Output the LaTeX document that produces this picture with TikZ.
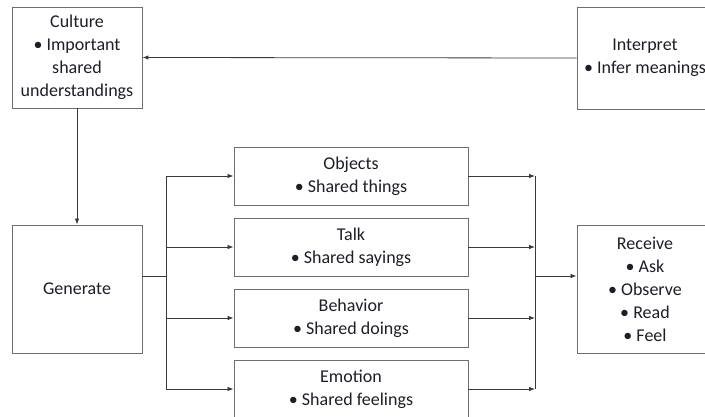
\documentclass[tikz,border=0pt]{standalone}
\usepackage{fontspec}
\setmainfont{Carlito}
\usetikzlibrary{arrows.meta}
\definecolor{boxline}{HTML}{6E6E6E}
\definecolor{wire}{HTML}{3A3A3A}
\definecolor{ink}{HTML}{1E1E28}
\begin{document}
\begin{tikzpicture}[x=1pt,y=-1pt,
  box/.style={draw=boxline, line width=0.9pt, fill=white, align=center,
    inner sep=0pt, text=ink,
    font=\fontsize{18}{23}\selectfont},
  arr/.style={draw=wire, line width=0.8pt, -{Latex[length=6pt,width=4.5pt]}},
  wireline/.style={draw=wire, line width=0.8pt}]
\useasboundingbox (0,0) rectangle (705,417);
\begin{scope}
\clip (0,0) rectangle (705,417);
% left column
\node[box, minimum width=130pt, minimum height=101pt] (cul) at (77,57.5)
  {Culture\\• Important\\shared\\understandings};
\node[box, minimum width=130pt, minimum height=128pt] (gen) at (77,289) {Generate};
% right column (boxes run past the right edge)
\node[box, minimum width=136pt, minimum height=102pt] (int) at (645,58)
  {Interpret\\• Infer meanings};
\node[box, minimum width=136pt, minimum height=128pt] (rec) at (645,289)
  {Receive\\• Ask\\• Observe\\• Read\\• Feel};
% middle column
\node[box, minimum width=234pt, minimum height=58pt] (obj) at (351,176)
  {Objects\\• Shared things};
\node[box, minimum width=234pt, minimum height=58pt] (talk) at (351,247)
  {Talk\\• Shared sayings};
\node[box, minimum width=234pt, minimum height=58pt] (beh) at (351,318)
  {Behavior\\• Shared doings};
\node[box, minimum width=234pt, minimum height=58pt] (emo) at (351,389)
  {Emotion\\• Shared feelings};
% feedback and generation
\draw[arr] (int.west) -- (cul.east);
\draw[arr] (cul.south) -- (gen.north);
% fan-out bus
\coordinate (bl) at (166,276);
\coordinate (br) at (535,276);
\draw[wireline] ([yshift=13pt]gen.east) -- (bl);
\foreach \n in {obj,talk,beh,emo}
  \draw[arr] (bl) |- (\n.west);
% fan-in bus
\foreach \n in {obj,talk,beh,emo}
  \draw[arr] (\n.east) -- (\n.east -| br);
\draw[wireline] (obj.east -| br) -- (emo.east -| br);
\draw[arr] (br) -- ([yshift=13pt]rec.west);
\end{scope}
\end{tikzpicture}
\end{document}
